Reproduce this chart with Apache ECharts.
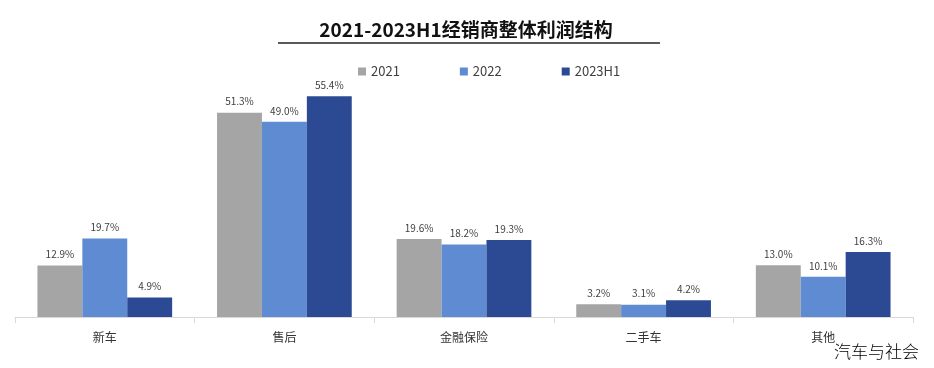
<!DOCTYPE html>
<html><head><meta charset="utf-8">
<script src="https://cdn.jsdelivr.net/npm/echarts@6/dist/echarts.min.js"></script>
<style>html,body{margin:0;padding:0;background:#fff}#c{width:934px;height:368px}</style>
</head><body><div id="c"></div>
<script>
var categories = ['新车', '售后', '金融保险', '二手车', '其他'];
var seriesNames = ['2021', '2022', '2023H1'];
var v2021 = [12.9, 51.3, 19.6, 3.2, 13.0];
var v2022 = [19.7, 49.0, 18.2, 3.1, 10.1];
var v2023H1 = [4.9, 55.4, 19.3, 4.2, 16.3];
var colors = ['#A5A5A5', '#5F8BD2', '#2C4A94'];
var font = '"Noto Sans CJK SC", "Open Sans", sans-serif';
var chart = echarts.init(document.getElementById('c'));
function mk(name, data, color) {
  return {
    name: name, type: 'bar', data: data, barGap: '0%', barCategoryGap: '25%',
    itemStyle: { color: color },
    label: { show: true, position: 'top', distance: 6, fontSize: 10, color: '#404040', fontFamily: font,
      formatter: function (p) { return p.value.toFixed(1) + '%'; } }
  };
}
chart.setOption({
  animation: false,
  title: { text: '2021-2023H1经销商整体利润结构', left: 461, top: 15, textAlign: 'center',
    textStyle: { fontSize: 19, fontWeight: 'bold', color: '#111', fontFamily: font } },
  legend: { top: 60, left: 353, itemWidth: 8, itemHeight: 8, itemGap: 60, icon: 'rect',
    textStyle: { fontSize: 13, color: '#404040', fontFamily: font }, data: seriesNames },
  grid: { left: 15, right: 21, top: 78, bottom: 51 },
  xAxis: { type: 'category', data: categories,
    axisLine: { lineStyle: { color: '#D9D9D9' } },
    axisTick: { show: true, length: 6, lineStyle: { color: '#D9D9D9' } },
    axisLabel: { fontSize: 12, color: '#333', margin: 14, fontFamily: font } },
  yAxis: { type: 'value', min: 0, max: 60, show: false, splitLine: { show: false } },
  series: [mk(seriesNames[0], v2021, colors[0]), mk(seriesNames[1], v2022, colors[1]), mk(seriesNames[2], v2023H1, colors[2])],
  graphic: [
    { type: 'line', shape: { x1: 278, y1: 43, x2: 660, y2: 43 }, style: { stroke: '#5a5a5a', lineWidth: 2 } },
    { type: 'text', right: 15, top: 343, style: { text: '汽车与社会', fontSize: 17, fontWeight: 300, fill: '#000', fontFamily: font } }
  ]
});
</script></body></html>
